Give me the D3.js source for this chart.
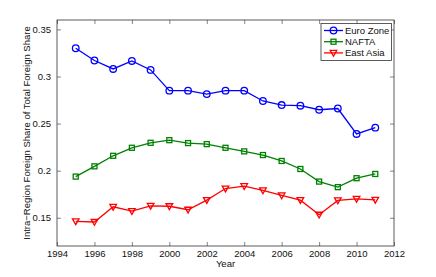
<!DOCTYPE html>
<html><head><meta charset="utf-8">
<script src="https://cdn.jsdelivr.net/npm/d3@7"></script>
<style>body{margin:0;background:#fff}svg{display:block}text{font-family:"Liberation Sans",Arial,sans-serif}</style>
</head><body><svg id="c" width="436" height="277"></svg>
<script>
const years = [1995,1996,1997,1998,1999,2000,2001,2002,2003,2004,2005,2006,2007,2008,2009,2010,2011];
const euroZone = [0.330,0.317,0.308,0.3165,0.307,0.285,0.285,0.2813,0.285,0.285,0.274,0.2697,0.269,0.2647,0.266,0.239,0.2457];
const nafta = [0.1937,0.2046,0.2158,0.2243,0.2296,0.2324,0.2293,0.2282,0.2243,0.2205,0.2166,0.2103,0.2018,0.1884,0.1825,0.192,0.1965];
const eastAsia = [0.1462,0.1455,0.1616,0.157,0.1627,0.1622,0.1585,0.1687,0.181,0.1835,0.179,0.1737,0.1687,0.1532,0.1684,0.170,0.169];
const xTicks = [1994,1996,1998,2000,2002,2004,2006,2008,2010,2012];
const yTicks = [0.15,0.2,0.25,0.3,0.35];
const seriesNames = ["Euro Zone","NAFTA","East Asia"];
const colors = ["#0000ff","#008000","#ff0000"];

const svg = d3.select("#c");
const L=57,T=20,R=394,B=246;
const x = d3.scaleLinear().domain([1994,2012]).range([L,R]);
const y = d3.scaleLinear().domain([0.12,0.36]).range([B,T]);
const axisCol="#333";
svg.append("rect").attr("x",L).attr("y",T).attr("width",R-L).attr("height",B-T).attr("fill","none").attr("stroke",axisCol).attr("stroke-width",0.8);
const bx = svg.append("g").attr("transform",`translate(0,${B})`).call(d3.axisBottom(x).tickValues(xTicks).tickFormat(d3.format("d")).tickSizeInner(-4).tickSizeOuter(0).tickPadding(4.5));
const tx = svg.append("g").attr("transform",`translate(0,${T})`).call(d3.axisTop(x).tickValues(xTicks).tickFormat("").tickSizeInner(-4).tickSizeOuter(0));
const ly = svg.append("g").attr("transform",`translate(${L},0)`).call(d3.axisLeft(y).tickValues(yTicks).tickFormat(d=>d3.format("")(d)).tickSizeInner(-4).tickSizeOuter(0).tickPadding(6));
const ry = svg.append("g").attr("transform",`translate(${R},0)`).call(d3.axisRight(y).tickValues(yTicks).tickFormat("").tickSizeInner(-4).tickSizeOuter(0));
[bx,tx,ly,ry].forEach(a=>{a.select(".domain").remove();a.selectAll("line").attr("stroke",axisCol).attr("stroke-width",0.6);a.selectAll("text").attr("fill","#111").style("font-size","9.5px");});

svg.append("text").attr("x",x(2003)).attr("y",267).attr("text-anchor","middle").style("font-size","9.5px").attr("fill","#111").text("Year");
svg.append("text").attr("transform",`translate(30,${(T+B)/2}) rotate(-90)`).attr("text-anchor","middle").style("font-size","9.5px").attr("fill","#111").text("Intra\u2212Region Foreign Share of Total Foreign Share");

const data=[euroZone,nafta,eastAsia];
const line=d3.line().x((d,i)=>x(years[i])).y(d=>y(d));
function marker(sel,k,cx,cy){
  const c=colors[k];
  if(k===0) sel.append("circle").attr("cx",cx).attr("cy",cy).attr("r",3.3).attr("fill","none").attr("stroke",c).attr("stroke-width",1.3);
  else if(k===1) sel.append("rect").attr("x",cx-2.5).attr("y",cy-2.5).attr("width",5).attr("height",5).attr("fill","none").attr("stroke",c).attr("stroke-width",1.3);
  else sel.append("path").attr("d",`M${cx-3.3},${cy-2.5}L${cx+3.3},${cy-2.5}L${cx},${cy+3.3}Z`).attr("fill","none").attr("stroke",c).attr("stroke-width",1.3);
}
data.forEach((s,k)=>{
  svg.append("path").datum(s).attr("d",line).attr("fill","none").attr("stroke",colors[k]).attr("stroke-width",1.3);
  const mg=svg.append("g");
  s.forEach((v,i)=>marker(mg,k,x(years[i]),y(v)));
});
const lg=svg.append("g");
lg.append("rect").attr("x",321).attr("y",23.5).attr("width",70.5).attr("height",37).attr("fill","#fff").attr("stroke",axisCol).attr("stroke-width",0.8);
seriesNames.forEach((n,k)=>{
  const yy=30.5+k*11.2;
  lg.append("line").attr("x1",324).attr("x2",343).attr("y1",yy).attr("y2",yy).attr("stroke",colors[k]).attr("stroke-width",1.3);
  marker(lg,k,333.5,yy);
  lg.append("text").attr("x",345).attr("y",yy+3.4).style("font-size","9.5px").attr("fill","#111").text(n);
});
</script></body></html>
